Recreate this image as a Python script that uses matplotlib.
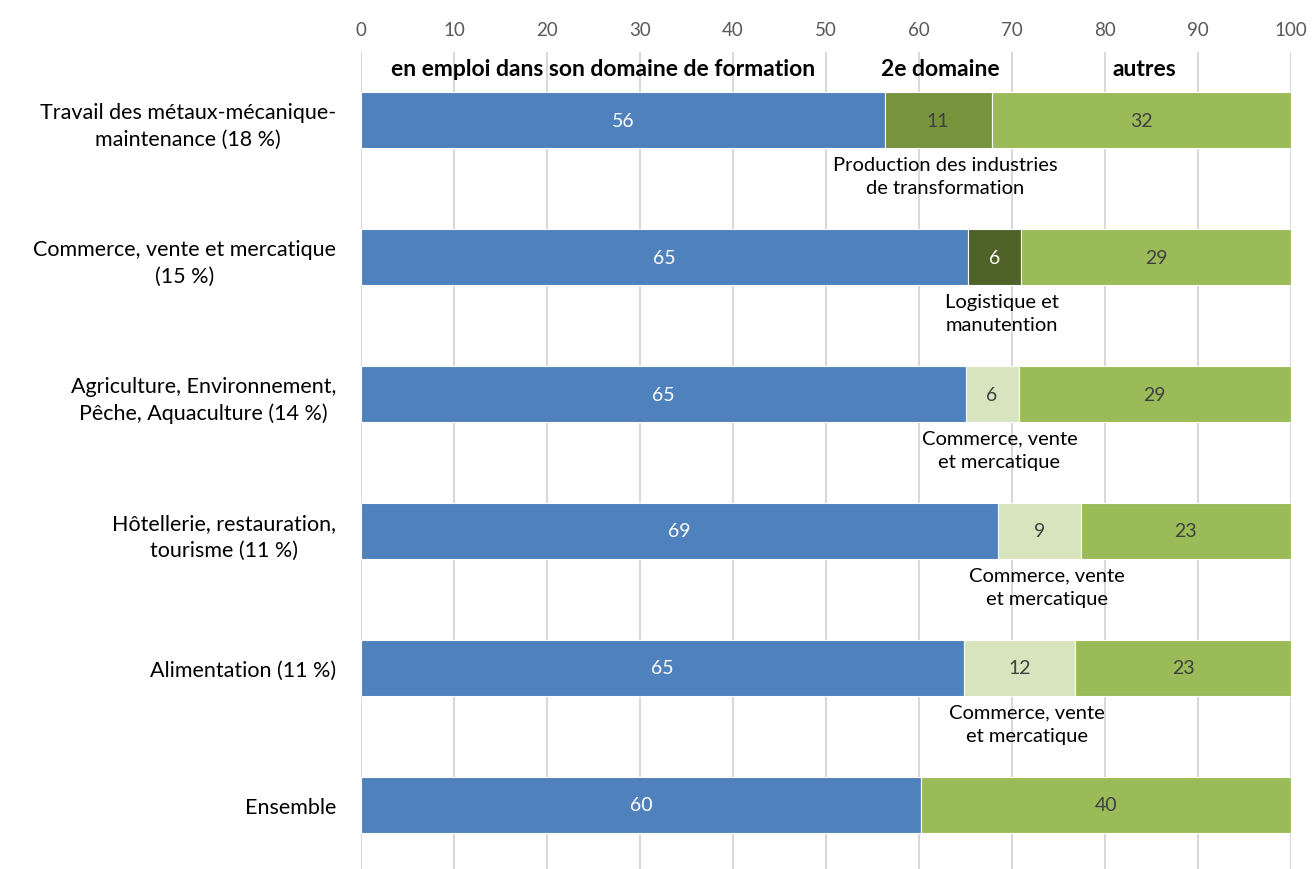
import matplotlib.pyplot as plt
import numpy as np

plt.rcParams['font.family'] = ['Lato', 'DejaVu Sans']

# Data
categories = ["Travail des métaux-mécanique-\nmaintenance (18 %)",
              "Commerce, vente et mercatique\n(15 %)",
              "Agriculture, Environnement,\nPêche, Aquaculture (14 %)",
              "Hôtellerie, restauration,\ntourisme (11 %)",
              "Alimentation (11 %)",
              "Ensemble"]
domaine = [56.3, 65.3, 65.0, 68.5, 64.8, 60.2]
second = [11.5, 5.7, 5.7, 8.9, 12.0, 0.0]
autres = [32.2, 29.0, 29.3, 22.6, 23.2, 39.8]
domaine_lbl = ["56", "65", "65", "69", "65", "60"]
second_lbl = ["11", "6", "6", "9", "12", ""]
autres_lbl = ["32", "29", "29", "23", "23", "40"]
second_names = ["Production des industries\nde transformation",
                "Logistique et\nmanutention",
                "Commerce, vente\net mercatique",
                "Commerce, vente\net mercatique",
                "Commerce, vente\net mercatique",
                ""]
headers = ["en emploi dans son domaine de formation", "2e domaine", "autres"]

blue = "#4F81BD"
second_colors = ["#77933C", "#4F6228", "#D7E4BD", "#D7E4BD", "#D7E4BD", "#D7E4BD"]
second_txt = ["#404040", "white", "#404040", "#404040", "#404040", "#404040"]
green = "#9BBB59"

fig = plt.figure(figsize=(13.12, 8.7), dpi=100)
ax = fig.add_axes([361 / 1312, 0, 930 / 1312, 1 - 53 / 870])

y = np.arange(len(categories))
h = 0.41
d = np.array(domaine)
s = np.array(second)
a = np.array(autres)

ax.barh(y, d, height=h, color=blue, edgecolor="white", linewidth=0.8, zorder=3)
ax.barh(y, s, left=d, height=h, color=second_colors, edgecolor="white", linewidth=0.8, zorder=3)
ax.barh(y, a, left=d + s, height=h, color=green, edgecolor="white", linewidth=0.8, zorder=3)

for i in range(len(categories)):
    ax.text(d[i] / 2, y[i], domaine_lbl[i], ha="center", va="center",
            color="white", fontsize=14, zorder=4)
    if second_lbl[i]:
        ax.text(d[i] + s[i] / 2, y[i], second_lbl[i], ha="center", va="center",
                color=second_txt[i], fontsize=14, zorder=4)
        ax.text(d[i] + s[i] / 2 + 0.8, y[i] + 0.26, second_names[i], ha="center", va="top",
                color="black", fontsize=14.5, linespacing=1.45, zorder=4)
    ax.text(d[i] + s[i] + a[i] / 2, y[i], autres_lbl[i], ha="center", va="center",
            color="#404040", fontsize=14, zorder=4)

# column headers
ax.text(26, -0.38, headers[0], ha="center", va="center", fontsize=16.5, fontweight="bold")
ax.text(62.3, -0.38, headers[1], ha="center", va="center", fontsize=16.5, fontweight="bold")
ax.text(84.2, -0.38, headers[2], ha="center", va="center", fontsize=16.5, fontweight="bold")

ax.set_xlim(0, 100)
ax.set_ylim(5.47, -0.5)
ax.set_xticks(np.arange(0, 101, 10))
ax.xaxis.tick_top()
ax.tick_params(axis="x", length=0, pad=10, labelsize=13.5, labelcolor="#595959")
ax.set_yticks(y)
ax.set_yticklabels(categories, fontsize=15.5, multialignment="center", linespacing=1.4)
ax.tick_params(axis="y", length=0, pad=18)
ax.grid(axis="x", color="#D9D9D9", linewidth=1.5, zorder=0)
for sp in ax.spines.values():
    sp.set_visible(False)

fig.savefig("out.png", dpi=100)
